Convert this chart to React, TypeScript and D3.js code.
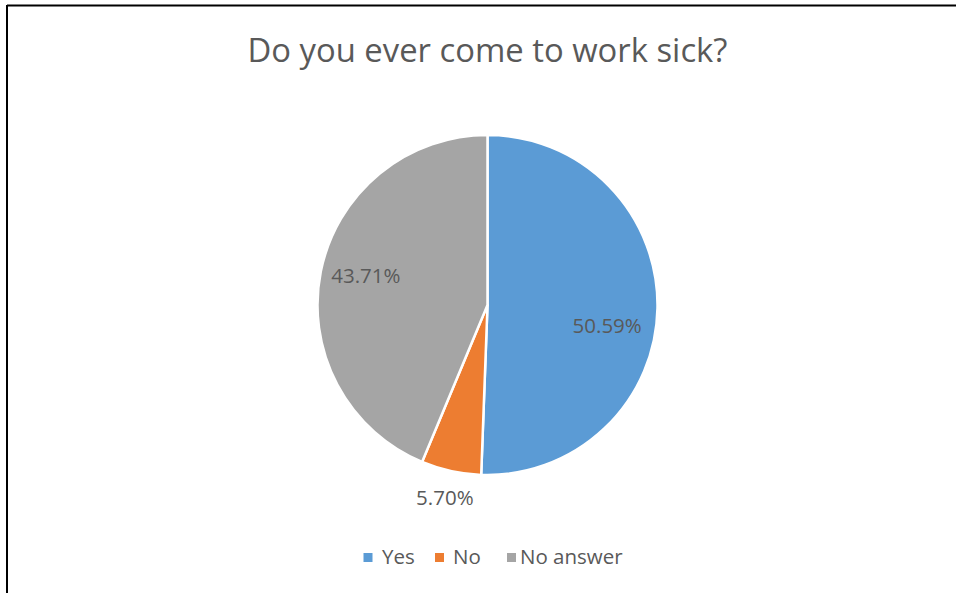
import React from "react";
import * as d3 from "d3";

const title = "Do you ever come to work sick?";
const categories = ["Yes", "No", "No answer"];
const values = [50.59, 5.7, 43.71];
const colors = ["#5B9BD5", "#ED7D31", "#A5A5A5"];

const W = 956;
const H = 593;
const cx = 487.5;
const cy = 305;
const R = 170;
const font = "'Open Sans', 'Liberation Sans', sans-serif";
const textColor = "#595959";

// label placement (radius factor, pixel nudge) per slice
const labelRadius = [0.71, 1.17, 0.73];
const labelNudge: [number, number][] = [[-1, 18], [0, -2], [0, -6]];

export default function App() {
  const pie = d3.pie<number>().sort(null).value((d) => d);
  const arcs = pie(values);
  const arc = d3.arc<d3.PieArcDatum<number>>().innerRadius(0).outerRadius(R);

  const legendSq = [368, 439.5, 511.5];
  const legendTx = [382, 453, 520];

  return (
    <svg width={W} height={H} style={{ position: "absolute", left: 0, top: 0 }}>
      <rect x={0} y={0} width={W} height={H} fill="#fff" />
      <line x1={7} y1={5.5} x2={W} y2={5.5} stroke="#000" strokeWidth={2} />
      <line x1={7} y1={5} x2={7} y2={H} stroke="#000" strokeWidth={2} />
      <text x={cx} y={62} textAnchor="middle" fontFamily={font} fontSize={32.8} fill={textColor}>
        {title}
      </text>
      <g transform={`translate(${cx},${cy})`}>
        {arcs.map((a, i) => (
          <path key={i} d={arc(a) || ""} fill={colors[i]} stroke="#fff" strokeWidth={2.5} strokeLinejoin="round" />
        ))}
        {arcs.map((a, i) => {
          const lr = R * labelRadius[i];
          const p = d3.arc<d3.PieArcDatum<number>>().innerRadius(lr).outerRadius(lr).centroid(a);
          return (
            <text key={i} x={p[0] + labelNudge[i][0]} y={p[1] + labelNudge[i][1]} textAnchor="middle" dominantBaseline="central"
              fontFamily={font} fontSize={20.5} fill={textColor}>
              {values[i].toFixed(2) + "%"}
            </text>
          );
        })}
      </g>
      {categories.map((c, i) => (
        <g key={c}>
          <rect x={legendSq[i] - 4.5} y={553} width={9} height={9} fill={colors[i]} />
          <text x={legendTx[i]} y={564} fontFamily={font} fontSize={20.5} fill={textColor}>
            {c}
          </text>
        </g>
      ))}
    </svg>
  );
}
